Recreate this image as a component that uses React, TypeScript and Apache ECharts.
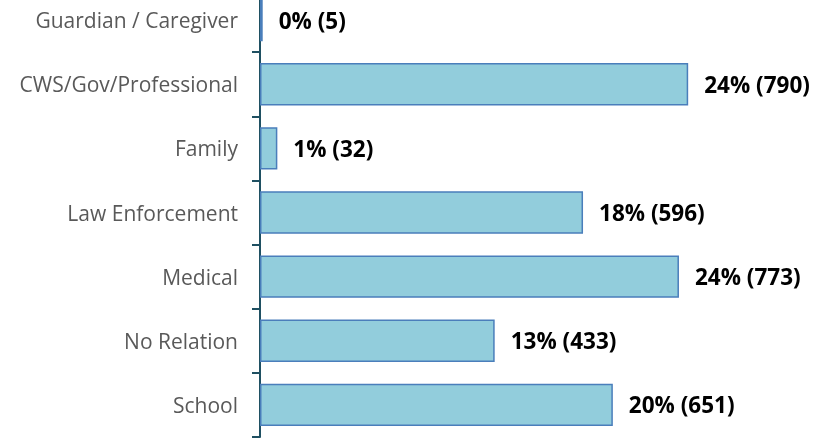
import React, { useEffect, useRef } from "react";
import * as echarts from "echarts";

const categories = [
  "Guardian / Caregiver",
  "CWS/Gov/Professional",
  "Family",
  "Law Enforcement",
  "Medical",
  "No Relation",
  "School",
];
const counts = [5, 790, 32, 596, 773, 433, 651];
const percents = [0, 24, 1, 18, 24, 13, 20];

export default function App() {
  const ref = useRef<HTMLDivElement>(null);
  useEffect(() => {
    if (!ref.current) return;
    const chart = echarts.init(ref.current, null, { renderer: "svg" });
    chart.setOption({
      animation: false,
      grid: { left: 260, top: -12, width: 542, height: 449, outerBoundsMode: "none", containLabel: false },
      xAxis: {
        type: "value",
        min: 0,
        max: 1000,
        show: false,
      },
      yAxis: {
        type: "category",
        data: categories,
        inverse: true,
        axisLine: { show: true, lineStyle: { color: "#1F5062", width: 2 } },
        axisTick: { show: true, length: 8, lineStyle: { color: "#1F5062", width: 2 } },
        axisLabel: {
          margin: 22,
          color: "#595959",
          fontFamily: "Open Sans",
          fontSize: 21,
        },
        splitLine: { show: false },
      },
      series: [
        {
          type: "bar",
          data: counts,
          barCategoryGap: "34%",
          itemStyle: { color: "#92CDDC", borderColor: "#4A7EBB", borderWidth: 1.5 },
          label: {
            show: true,
            position: "right",
            distance: 16,
            color: "#000000",
            fontFamily: "Open Sans",
            fontWeight: "bold",
            fontSize: 22.5,
            formatter: (p: any) => `${percents[p.dataIndex]}% (${counts[p.dataIndex]})`,
          },
        },
      ],
    });
    return () => chart.dispose();
  }, []);
  return (
    <div
      ref={ref}
      style={{ position: "fixed", left: 0, top: 0, width: 814, height: 438 }}
    />
  );
}
